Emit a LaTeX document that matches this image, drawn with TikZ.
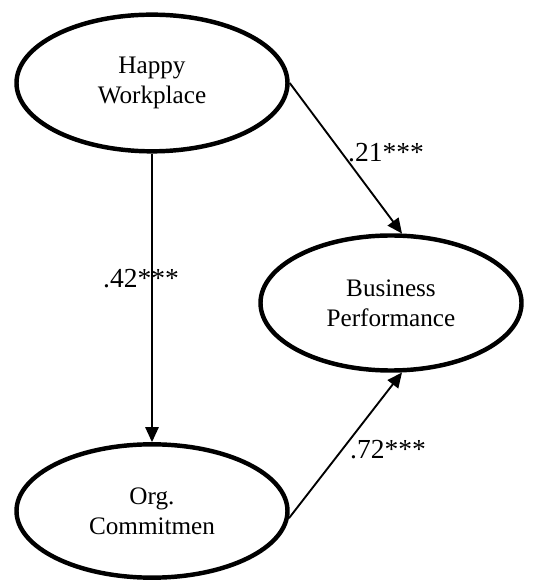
\documentclass[tikz,border=0pt]{standalone}
\usepackage{fontspec}
\setmainfont{Liberation Serif}
\usepackage{tikz}
\usetikzlibrary{shapes, arrows.meta, positioning, calc}

\begin{document}
\begin{tikzpicture}[
  latent/.style={draw, ellipse, line width=3.8pt, minimum width=8.13cm, minimum height=4.1cm, inner sep=0pt, align=center, font=\fontsize{21.5}{25.5}\selectfont},
  effect/.style={-{Triangle[length=0.45cm, width=0.4cm]}, line width=1.6pt},
  coef/.style={anchor=base west, inner sep=0pt, font=\fontsize{23.5}{27}\selectfont}
]
  \useasboundingbox (0,0) rectangle (16.05,17.46);
  \node[latent] (happy) at (4.56, 14.97) {Happy\\Workplace};
  \node[latent, minimum width=7.83cm, minimum height=4.05cm] (business) at (11.73, 8.37) {Business\\Performance};
  \node[latent, minimum height=4.0cm] (org) at (4.56, 2.13) {Org.\\Commitmen};

  \draw[effect] (happy.east) -- (business.81);
  \draw[effect] (happy.south) -- (org.north);
  \draw[effect] (org.-3) -- (business.-81);

  \node[coef] (c21) at (10.44, 12.6) {.21***};
  \node[coef] (c42) at (3.09, 8.82) {.42***};
  \node[coef] (c72) at (10.5, 3.69) {.72***};
\end{tikzpicture}
\end{document}
